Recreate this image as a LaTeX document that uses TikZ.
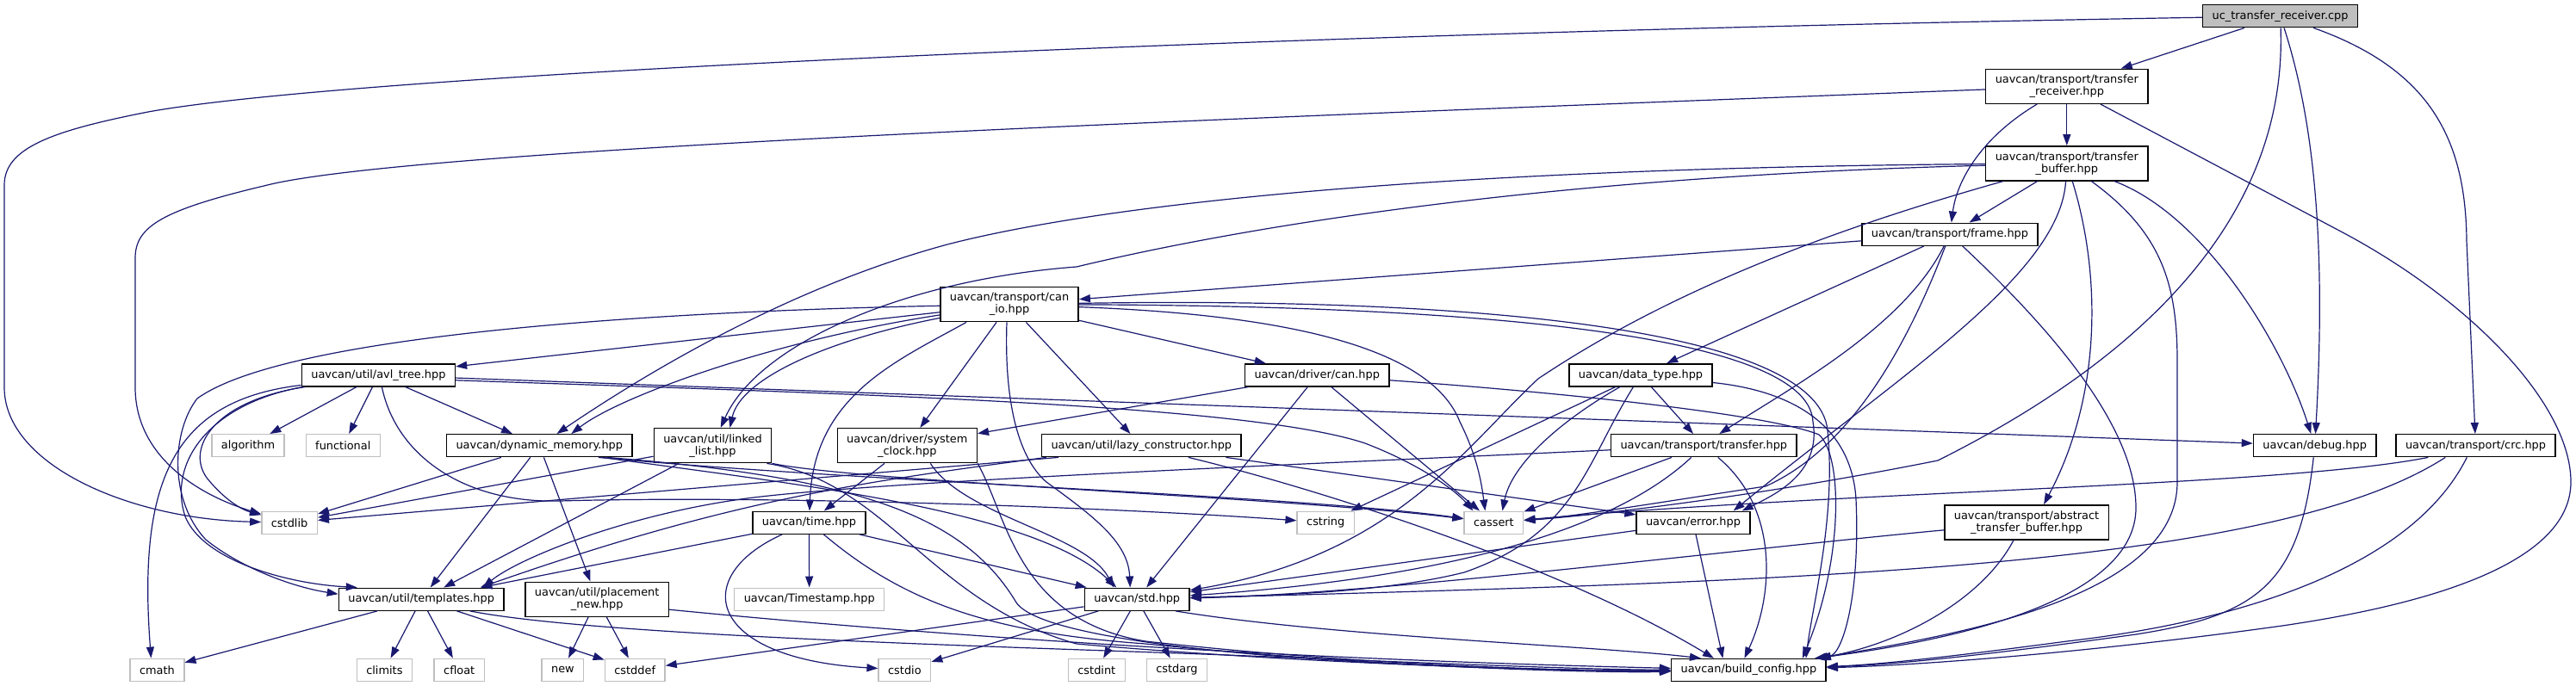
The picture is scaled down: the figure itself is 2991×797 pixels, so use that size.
\documentclass[tikz,border=0pt]{standalone}
\usepackage{fontspec}
\setmainfont{DejaVu Sans}
\usetikzlibrary{arrows.meta,calc}
\definecolor{edgec}{HTML}{191970}
\definecolor{grey75}{HTML}{BFBFBF}
\tikzset{
  nd/.style={draw=black, line width=0.7pt, fill=white, font=\fontsize{6.45pt}{7pt}\selectfont, inner xsep=5.5pt, inner ysep=0pt, minimum height=13pt, text=black},
  nd2/.style={nd, align=center, minimum height=20pt},
  sys/.style={nd, draw=grey75},
  rootnd/.style={nd, fill=grey75},
  e/.style={draw=edgec, line width=0.6pt, -{Triangle[length=6.5pt,width=4.5pt]}},
}
\begin{document}
\begin{tikzpicture}[x=0.5pt,y=-0.5pt]
\path[fill=white,use as bounding box] (0,0) rectangle (2991,797);
% nodes
\node[rootnd] (root) at (2647.6,18.7) {uc\_transfer\_receiver.cpp};
\node[nd2] (trecv) at (2399.8,100.3) {uavcan/transport/transfer\\\_receiver.hpp};
\node[nd2] (tbuf) at (2399.8,189.8) {uavcan/transport/transfer\\\_buffer.hpp};
\node[nd] (frame) at (2264,272.2) {uavcan/transport/frame.hpp};
\node[nd2] (canio) at (1172,353.7) {uavcan/transport/can\\\_io.hpp};
\node[nd] (avl) at (439.4,435.8) {uavcan/util/avl\_tree.hpp};
\node[nd] (dcan) at (1529.3,435.8) {uavcan/driver/can.hpp};
\node[nd] (dtype) at (1905,435.8) {uavcan/data\_type.hpp};
\node[sys] (algorithm) at (288,517.7) {algorithm};
\node[sys] (functional) at (398.3,517.7) {functional};
\node[nd] (dynmem) at (626.3,517.7) {uavcan/dynamic\_memory.hpp};
\node[nd2] (llist) at (827.5,517.7) {uavcan/util/linked\\\_list.hpp};
\node[nd2] (sysclk) at (1053.3,517.7) {uavcan/driver/system\\\_clock.hpp};
\node[nd] (lazy) at (1325.3,517.7) {uavcan/util/lazy\_constructor.hpp};
\node[nd] (transfer) at (1978.3,517.7) {uavcan/transport/transfer.hpp};
\node[nd] (debug) at (2687.7,517.7) {uavcan/debug.hpp};
\node[nd] (crc) at (2874.5,517.7) {uavcan/transport/crc.hpp};
\node[sys] (cstdlib) at (336.1,607.2) {cstdlib};
\node[nd] (time) at (939.4,607.2) {uavcan/time.hpp};
\node[sys] (cstring) at (1539.2,607.2) {cstring};
\node[sys] (cassert) at (1734.4,607.2) {cassert};
\node[nd] (error) at (1966,607.2) {uavcan/error.hpp};
\node[nd2] (abstb) at (2353,606.8) {uavcan/transport/abstract\\\_transfer\_buffer.hpp};
\node[nd] (templates) at (489.2,696.2) {uavcan/util/templates.hpp};
\node[nd2] (pnew) at (693.2,696.2) {uavcan/util/placement\\\_new.hpp};
\node[sys] (timestamp) at (939.7,696.2) {uavcan/Timestamp.hpp};
\node[nd] (std) at (1320.2,696.2) {uavcan/std.hpp};
\node[sys] (cmath) at (182.4,778.3) {cmath};
\node[sys] (climits) at (446.4,778.3) {climits};
\node[sys] (cfloat) at (533.2,778.3) {cfloat};
\node[sys] (new) at (653.4,778.3) {new};
\node[sys] (cstddef) at (737.2,778.3) {cstddef};
\node[sys] (cstdio) at (1050.4,778.3) {cstdio};
\node[sys] (cstdint) at (1273.3,778.3) {cstdint};
\node[sys] (cstdarg) at (1366.4,778.3) {cstdarg};
\node[nd] (bconf) at (2030.4,778.5) {uavcan/build\_config.hpp};
% root
\draw[e] (root) -- (trecv);
\draw[e] (root) .. controls (1500,38) and (420,85) .. (172,130) .. controls (60,152) and (5,172) .. (5,215) -- (5,450) .. controls (5,540) and (150,603) .. (cstdlib);
\draw[e] (root) .. controls (2655,230) and (2520,400) .. (2250,535) .. controls (2050,575) and (1860,598) .. (cassert);
\draw[e] (root) .. controls (2690,150) and (2700,300) .. (debug);
\draw[e] (root) .. controls (2820,80) and (2863,160) .. (2864,280) -- (crc);
% trecv
\draw[e] (trecv) .. controls (1500,135) and (520,170) .. (319,213) .. controls (190,243) and (157,262) .. (157,300) -- (157,450) .. controls (157,530) and (230,575) .. (cstdlib);
\draw[e] (trecv) -- (tbuf);
\draw[e] (trecv) .. controls (2300,160) and (2272,210) .. (frame);
\draw[e] (trecv) -- (2720,270) .. controls (2870,350) and (2985,470) .. (2985,560) .. controls (2985,660) and (2800,705) .. (2650,727) .. controls (2450,755) and (2250,772) .. (bconf);
% tbuf
\draw[e] (tbuf) .. controls (1600,196) and (1250,245) .. (1100,284) .. controls (930,330) and (770,420) .. (dynmem);
\draw[e] (tbuf) .. controls (1800,205) and (1450,262) .. (1250,310) .. controls (1050,325) and (880,400) .. (llist);
\draw[e] (tbuf) .. controls (2150,260) and (1950,330) .. (1786,440) .. controls (1700,520) and (1620,645) .. (std);
\draw[e] (tbuf) -- (frame);
\draw[e] (tbuf) .. controls (2392,320) and (2200,440) .. ($(error.north east)+(-20,0)$);
\draw[e] (tbuf) .. controls (2440,320) and (2440,460) .. ($(abstb.north)+(20,0)$);
\draw[e] (tbuf) .. controls (2510,270) and (2528,330) .. (2528,420) -- (2528,560) .. controls (2528,700) and (2250,740) .. ($(bconf.north east)+(-8,0)$);
\draw[e] (tbuf) .. controls (2560,250) and (2650,400) .. (debug);
% frame
\draw[e] (frame) -- (canio);
\draw[e] (frame) -- (dtype);
\draw[e] (frame) .. controls (2210,380) and (2080,450) .. ($(transfer.north)+(18,0)$);
\draw[e] (frame) .. controls (2215,400) and (2150,520) .. (2050,565) .. controls (1950,580) and (1830,600) .. (cassert);
\draw[e] (frame) .. controls (2390,390) and (2480,500) .. (2480,590) .. controls (2480,690) and (2300,740) .. ($(bconf.north east)+(-14,0)$);
% canio
\draw[e] (canio) .. controls (750,362) and (330,390) .. (229,463) .. controls (200,500) and (195,580) .. (239,627) .. controls (280,660) and (340,682) .. ($(templates.west)+(0,-6)$);
\draw[e] (canio) -- (avl);
\draw[e] (canio) .. controls (900,395) and (720,460) .. ($(dynmem.north)+(37,0)$);
\draw[e] (canio) .. controls (960,395) and (860,440) .. ($(llist.north)+(20,0)$);
\draw[e] ($(canio.south)+(-50,0)$) .. controls (1040,420) and (945,460) .. (time);
\draw[e] (canio) -- (sysclk);
\draw[e] ($(canio.south)+(-3,0)$) .. controls (1166,460) and (1180,530) .. (1215,560) .. controls (1270,600) and (1310,630) .. ($(std.north)+(-8,0)$);
\draw[e] (canio) -- (lazy);
\draw[e] (canio) -- (dcan);
\draw[e] (canio) .. controls (1480,365) and (1660,400) .. (1695,490) .. controls (1715,530) and (1720,560) .. ($(cassert.north)+(-10,0)$);
\draw[e] (canio) .. controls (1650,355) and (2100,380) .. (2105,490) .. controls (2115,550) and (2060,575) .. ($(error.north east)+(-10,0)$);
\draw[e] (canio) .. controls (1700,345) and (2110,380) .. (2122,500) .. controls (2132,600) and (2105,700) .. ($(bconf.north east)+(-24,0)$);
% avl
\draw[e] (avl) -- (algorithm);
\draw[e] (avl) -- (functional);
\draw[e] (avl) -- (dynmem);
\draw[e] ($(avl.south)+(4,0)$) .. controls (460,530) and (540,585) .. (650,582) .. controls (900,575) and (1300,590) .. (cstring);
\draw[e] ($(avl.south west)+(5,0)$) .. controls (250,465) and (215,520) .. (240,555) .. controls (260,580) and (280,592) .. (cstdlib);
\draw[e] ($(avl.south west)+(2,0)$) .. controls (240,470) and (195,540) .. (215,600) .. controls (235,650) and (330,678) .. ($(templates.north west)+(22,0)$);
\draw[e] ($(avl.south west)+(0,-2)$) .. controls (200,465) and (160,560) .. ($(cmath.north)+(-7,0)$);
\draw[e] (avl) -- (debug);
\draw[e] ($(avl.east)+(0,6)$) .. controls (1000,458) and (1450,470) .. (1585,515) .. controls (1650,540) and (1690,570) .. ($(cassert.north)+(-24,0)$);
% dynmem
\draw[e] (dynmem) -- (cstdlib);
\draw[e] (dynmem) -- (templates);
\draw[e] (dynmem) -- (pnew);
\draw[e] ($(dynmem.south east)+(-40,0)$) .. controls (1000,560) and (1500,575) .. (cassert);
\draw[e] ($(dynmem.south east)+(-35,0)$) .. controls (900,560) and (1200,590) .. ($(std.north)+(-24,0)$);
\draw[e] ($(dynmem.south east)+(-30,0)$) .. controls (1000,555) and (1120,600) .. (1180,700) .. controls (1220,760) and (1700,780) .. (bconf);
% llist
\draw[e] (llist) -- (cstdlib);
\draw[e] (llist) -- (templates);
\draw[e] (llist.south east) .. controls (1000,560) and (1500,578) .. (cassert);
\draw[e] ($(llist.south east)+(-6,0)$) .. controls (1030,560) and (1080,700) .. (1250,748) .. controls (1500,770) and (1800,780) .. (bconf);
% sysclk
\draw[e] (sysclk) -- (time);
\draw[e] ($(sysclk.south)+(27,0)$) .. controls (1120,600) and (1260,620) .. ($(std.north)+(-27,0)$);
\draw[e] (sysclk.south east) .. controls (1170,600) and (1180,720) .. (1330,745) .. controls (1600,775) and (1850,780) .. (bconf);
% dcan
\draw[e] (dcan) -- (sysclk);
\draw[e] (dcan) -- (std);
\draw[e] (dcan) -- (cassert);
\draw[e] (dcan) .. controls (1800,455) and (2050,480) .. (2112,505) .. controls (2140,530) and (2140,650) .. ($(bconf.north east)+(-28,0)$);
% dtype
\draw[e] (dtype) -- (cstring);
\draw[e] (dtype) .. controls (1810,490) and (1755,540) .. ($(cassert.north)+(10,0)$);
\draw[e] (dtype) .. controls (1840,540) and (1830,620) .. (1700,665) .. controls (1600,690) and (1460,692) .. (std);
\draw[e] (dtype) -- (transfer);
\draw[e] (dtype) .. controls (2090,455) and (2150,500) .. (2155,580) .. controls (2160,690) and (2140,760) .. (bconf);
% transfer
\draw[e] (transfer) .. controls (1500,540) and (1000,560) .. (860,580) .. controls (720,600) and (600,650) .. ($(templates.north east)+(-25,0)$);
\draw[e] (transfer) -- (cassert);
\draw[e] (transfer) .. controls (1880,610) and (1700,670) .. (std);
\draw[e] (transfer) .. controls (2065,590) and (2060,690) .. ($(bconf.north)+(-5,0)$);
% error
\draw[e] (error) -- (std);
\draw[e] (error) -- ($(bconf.north)+(-30,0)$);
% debug
\draw[e] (debug) .. controls (2670,680) and (2620,715) .. (2480,737) .. controls (2300,762) and (2200,772) .. (bconf);
% crc
\draw[e] ($(crc.south west)+(38,0)$) .. controls (2650,565) and (2150,570) .. (cassert);
\draw[e] ($(crc.south west)+(58,0)$) .. controls (2640,660) and (2100,675) .. (std);
\draw[e] ($(crc.south west)+(83,0)$) .. controls (2800,660) and (2600,722) .. (2400,745) .. controls (2250,765) and (2180,772) .. (bconf);
% abstb
\draw[e] (abstb) .. controls (2000,640) and (1600,690) .. (std);
\draw[e] ($(abstb.south)+(-15,0)$) .. controls (2300,700) and (2200,750) .. ($(bconf.north east)+(-12,0)$);
% time
\draw[e] (time) -- (templates);
\draw[e] (time) -- (timestamp);
\draw[e] ($(time.south west)+(35,0)$) .. controls (800,670) and (820,765) .. (cstdio);
\draw[e] (time) -- (std);
\draw[e] ($(time.south)+(17,0)$) .. controls (1050,700) and (1150,735) .. (1330,748) .. controls (1600,775) and (1850,782) .. (bconf);
% std
\draw[e] (std) -- (cstddef);
\draw[e] (std) -- (cstdio);
\draw[e] (std) -- (cstdint);
\draw[e] (std) -- (cstdarg);
\draw[e] ($(std.south east)+(-17,0)$) .. controls (1550,740) and (1850,750) .. ($(bconf.north west)+(35,0)$);
% templates
\draw[e] (templates) -- (cmath);
\draw[e] (templates) -- (climits);
\draw[e] (templates) -- (cfloat);
\draw[e] (templates) -- (cstddef);
\draw[e] ($(templates.south east)+(-40,0)$) .. controls (700,740) and (1200,752) .. (1450,762) .. controls (1700,772) and (1850,778) .. (bconf);
% pnew
\draw[e] (pnew) -- (new);
\draw[e] (pnew) -- (cstddef);
\draw[e] ($(pnew.east)+(0,12)$) .. controls (1100,740) and (1500,766) .. (bconf);
% lazy
\draw[e] ($(lazy.south west)+(20,0)$) -- (cstdlib);
\draw[e] ($(lazy.south west)+(6,0)$) .. controls (1000,560) and (850,580) .. ($(templates.north east)+(-28,0)$);
\draw[e] (lazy) -- (error);
\draw[e] ($(lazy.south east)+(-62,0)$) .. controls (1500,560) and (1800,650) .. ($(bconf.north west)+(50,0)$);
\end{tikzpicture}
\end{document}
